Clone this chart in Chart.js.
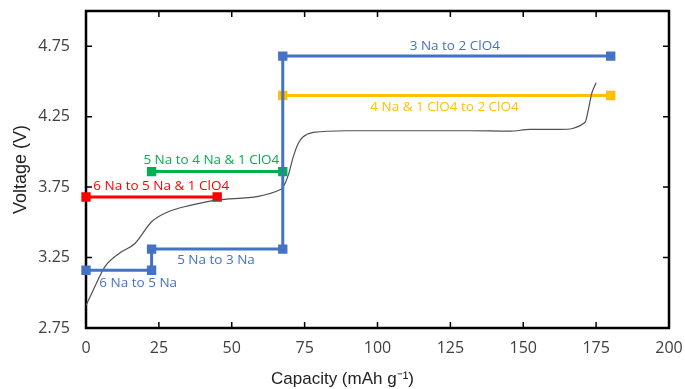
<!DOCTYPE html>
<html lang="en">
<head>
<meta charset="UTF-8">
<title>Voltage vs capacity</title>
<script src="https://cdn.jsdelivr.net/npm/chart.js"></script>
<style>
  body { margin: 0; background: #fff; }
  #wrap { width: 685px; height: 389px; }
</style>
</head>
<body>
<div id="wrap"><canvas id="chart"></canvas></div>
<script>
// measured voltage profile
const curveCap = [0, 2.5, 6.5, 11.7, 16.8, 22.5, 28.2, 35.7, 44.8, 67.1, 67.7, 69.4, 71.1, 72.8, 74.5, 78, 89.4, 131.7, 145.5, 152.3, 162.6, 171.2, 172.3, 173.5, 175];
const curveVolt = [2.91, 3.02, 3.185, 3.284, 3.35, 3.504, 3.575, 3.62, 3.658, 3.736, 3.752, 3.835, 3.965, 4.06, 4.107, 4.138, 4.15, 4.15, 4.147, 4.16, 4.16, 4.21, 4.296, 4.415, 4.49];

// calculated steps
const naCap = [0, 22.5, 22.5, 67.5, 67.5, 180];
const naVolt = [3.16, 3.16, 3.31, 3.31, 4.68, 4.68];
const clo4Cap = [67.5, 180];
const clo4Volt = [4.40, 4.40];
const greenCap = [22.5, 67.5];
const greenVolt = [3.86, 3.86];
const redCap = [0, 45];
const redVolt = [3.68, 3.68];

const xTicks = [0, 25, 50, 75, 100, 125, 150, 175, 200];
const yTicks = [2.75, 3.25, 3.75, 4.25, 4.75];

// step labels (text, capacity, voltage, colour)
const stepLabels = [
    ['3 Na to 2 ClO4', 126.5, 4.75, '#4472C4'],
    ['4 Na & 1 ClO4 to 2 ClO4', 123, 4.32, '#FFC000'],
    ['5 Na to 4 Na & 1 ClO4', 43, 3.94, '#00B050'],
    ['6 Na to 5 Na & 1 ClO4', 25.8, 3.76, '#FF0000'],
    ['5 Na to 3 Na', 44.6, 3.23, '#4472C4'],
    ['6 Na to 5 Na', 17.9, 3.07, '#4472C4']
];

function pts(xs, ys) {
    return xs.map((x, i) => ({ x: x, y: ys[i] }));
}

function stepSet(xs, ys, color) {
    return {
        data: pts(xs, ys),
        showLine: true,
        borderColor: color,
        backgroundColor: color,
        borderWidth: 3,
        pointStyle: 'rect',
        pointRadius: 4.5,
        clip: false
    };
}

const boxPlugin = {
    id: 'box',
    beforeDatasetsDraw(chart) {
        const ctx = chart.ctx, a = chart.chartArea;
        const x = chart.scales.x, y = chart.scales.y;
        ctx.save();
        ctx.strokeStyle = '#000';
        ctx.lineWidth = 1.5;
        ctx.beginPath();
        xTicks.forEach(v => {
            const px = x.getPixelForValue(v);
            ctx.moveTo(px, a.bottom); ctx.lineTo(px, a.bottom - 6);
            ctx.moveTo(px, a.top); ctx.lineTo(px, a.top + 6);
        });
        yTicks.forEach(v => {
            const py = y.getPixelForValue(v);
            ctx.moveTo(a.left, py); ctx.lineTo(a.left + 6, py);
            ctx.moveTo(a.right, py); ctx.lineTo(a.right - 6, py);
        });
        ctx.stroke();
        ctx.lineWidth = 2.5;
        ctx.strokeRect(a.left, a.top, a.right - a.left, a.bottom - a.top);
        ctx.restore();
    }
};

const labelPlugin = {
    id: 'steplabels',
    afterDatasetsDraw(chart) {
        const ctx = chart.ctx;
        const x = chart.scales.x, y = chart.scales.y;
        ctx.save();
        ctx.font = '13.5px "Open Sans"';
        ctx.textAlign = 'center';
        ctx.textBaseline = 'middle';
        stepLabels.forEach(l => {
            ctx.fillStyle = l[3];
            ctx.fillText(l[0], x.getPixelForValue(l[1]), y.getPixelForValue(l[2]));
        });
        // x axis title is centred on the whole figure, not the plot
        ctx.fillStyle = '#222';
        ctx.font = '17px "Liberation Sans"';
        ctx.fillText('Capacity (mAh g⁻¹)', chart.width / 2, 379);
        ctx.restore();
    }
};

new Chart(document.getElementById('chart'), {
    type: 'scatter',
    data: {
        datasets: [
            stepSet(naCap, naVolt, '#4472C4'),
            {
                data: pts(curveCap, curveVolt),
                showLine: true,
                borderColor: '#505050',
                borderWidth: 1.2,
                pointRadius: 0,
                cubicInterpolationMode: 'monotone'
            },
            stepSet(clo4Cap, clo4Volt, '#FFC000'),
            stepSet(greenCap, greenVolt, '#00B050'),
            stepSet(redCap, redVolt, '#FF0000')
        ]
    },
    options: {
        responsive: true,
        maintainAspectRatio: false,
        animation: false,
        layout: { padding: { top: 11, right: 16, left: 0, bottom: 0 } },
        plugins: { legend: { display: false }, tooltip: { enabled: false } },
        scales: {
            x: {
                type: 'linear',
                min: 0,
                max: 200,
                grid: { display: false, drawTicks: false },
                border: { display: false },
                afterBuildTicks: s => { s.ticks = xTicks.map(v => ({ value: v })); },
                afterFit: s => { s.height = 61; s.paddingLeft = 0; s.paddingRight = 0; },
                ticks: { padding: 11, color: '#404040', font: { family: 'Open Sans', size: 16 } }
            },
            y: {
                min: 2.75,
                max: 5,
                grid: { display: false, drawTicks: false },
                border: { display: false },
                afterBuildTicks: s => { s.ticks = yTicks.map(v => ({ value: v })); },
                afterFit: s => { s.width = 86; s.paddingTop = 0; s.paddingBottom = 0; },
                ticks: {
                    padding: 16,
                    color: '#404040',
                    font: { family: 'Open Sans', size: 16 },
                    callback: v => v.toFixed(2)
                },
                title: {
                    display: true,
                    text: 'Voltage (V)',
                    color: '#222',
                    font: { family: 'Liberation Sans', size: 18 },
                    padding: { top: 10, bottom: 0 }
                }
            }
        }
    },
    plugins: [boxPlugin, labelPlugin]
});
</script>
</body>
</html>
